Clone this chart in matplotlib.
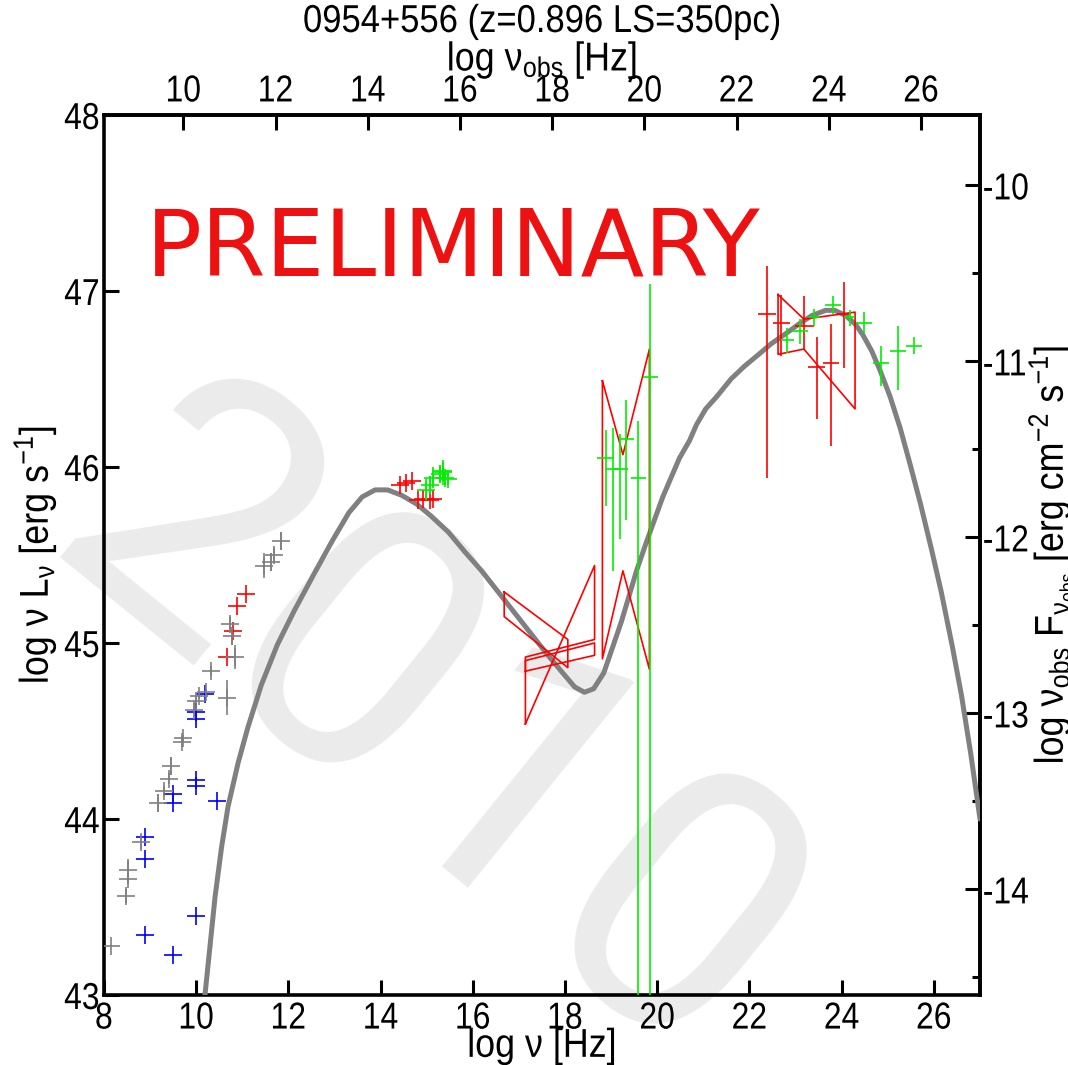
import numpy as np
import matplotlib
matplotlib.use("Agg")
import matplotlib.pyplot as plt
from matplotlib.ticker import FixedLocator, MultipleLocator
from matplotlib.patheffects import AbstractPathEffect
from matplotlib.transforms import Affine2D
from matplotlib.text import Text

# ---------------- data ----------------
Z_SHIFT = 0.2778          # log10(1+z)
DIST_OFFSET = 57.6        # log nuLnu - log nuFnu

# model SED (log nu [Hz], log nuLnu)
model_x = [10.19, 10.30, 10.41, 10.55, 10.69, 10.91, 11.12, 11.41, 11.76, 12.12,
           12.55, 12.95, 13.31, 13.60, 13.88, 14.15, 14.45, 14.78, 15.10, 15.47,
           15.82, 16.19, 16.55, 16.91, 17.27, 17.63, 17.95, 18.21, 18.42, 18.62,
           18.84, 19.05, 19.22, 19.38, 19.55, 19.76, 19.94, 20.12, 20.30, 20.48,
           20.70, 20.85, 21.05, 21.29, 21.60, 21.88, 22.20, 22.47, 22.80, 23.06,
           23.35, 23.65, 23.85, 24.09, 24.30, 24.46, 24.65, 24.83, 25.05, 25.27,
           25.50, 25.71, 25.95, 26.16, 26.40, 26.60, 26.80, 27.00]
model_y = [43.00, 43.28, 43.56, 43.84, 44.07, 44.32, 44.52, 44.76, 44.99, 45.18,
           45.39, 45.58, 45.74, 45.83, 45.87, 45.87, 45.84, 45.79, 45.72, 45.63,
           45.52, 45.41, 45.29, 45.17, 45.05, 44.93, 44.83, 44.75, 44.72, 44.74,
           44.83, 44.99, 45.12, 45.26, 45.41, 45.57, 45.70, 45.83, 45.94, 46.05,
           46.15, 46.24, 46.33, 46.40, 46.50, 46.57, 46.64, 46.70, 46.76, 46.81,
           46.86, 46.89, 46.89, 46.86, 46.81, 46.75, 46.66, 46.55, 46.40, 46.22,
           46.00, 45.79, 45.53, 45.29, 44.98, 44.70, 44.37, 44.00]

# archival radio/mm (grey)
grey_x = [8.15, 8.47, 8.53, 8.53, 8.81, 9.18, 9.30, 9.40, 9.45, 9.70, 9.72, 9.96,
          9.99, 10.05, 10.21, 10.32, 10.66, 10.85, 10.78, 10.73, 11.47, 11.62, 11.69, 11.84]
grey_y = [43.28, 43.56, 43.66, 43.71, 43.87, 44.09, 44.16, 44.23, 44.30, 44.44, 44.46, 44.62,
          44.67, 44.70, 44.72, 44.84, 44.69, 44.92, 45.04, 45.11, 45.44, 45.46, 45.50, 45.58]
grey_err = [0.0, 0.04, 0.03, 0.06, 0.04, 0.05, 0.03, 0.03, 0.05, 0.03, 0.02, 0.04,
            0.03, 0.02, 0.02, 0.03, 0.10, 0.07, 0.05, 0.04, 0.07, 0.05, 0.04, 0.05]

# blue radio
blue_x = [8.90, 8.90, 8.90, 9.50, 10.00, 9.50, 9.50, 10.00, 10.00, 10.45, 10.00, 10.00, 10.20]
blue_y = [43.90, 43.77, 43.34, 43.23, 43.45, 44.14, 44.09, 44.22, 44.19, 44.10, 44.57, 44.61, 44.71]

# red radio/mm
redr_x = [10.66, 10.80, 10.88, 11.07]
redr_y = [44.92, 45.07, 45.21, 45.28]

# optical/UV
redo_x = [14.42, 14.56, 14.67, 14.81, 14.92, 15.06, 15.14]
redo_y = [45.90, 45.91, 45.92, 45.81, 45.82, 45.81, 45.82]
greeno_x = [14.99, 15.06, 15.14, 15.28, 15.35, 15.39, 15.46, 15.35]
greeno_y = [45.87, 45.90, 45.94, 45.96, 45.97, 45.94, 45.93, 45.98]
greeno_err = [0.06, 0.05, 0.06, 0.05, 0.07, 0.04, 0.03, 0.05]

# hard X-ray points (green)
gx_x = [18.88, 19.04, 19.20, 19.33, 19.59, 19.85]
gx_y = [46.05, 45.99, 45.99, 46.16, 45.94, 46.51]
gx_xerr = [0.18, 0.18, 0.16, 0.17, 0.16, 0.16]
gx_elo = [0.27, 0.58, 0.40, 0.46, 4.00, 4.00]
gx_ehi = [0.16, 0.23, 0.20, 0.22, 0.32, 0.53]

# gamma-ray points (red)
rg_x = [22.38, 22.69, 23.19, 23.46, 23.77, 24.05]
rg_y = [46.87, 46.82, 46.80, 46.57, 46.59, 46.87]
rg_xerr = [0.19, 0.18, 0.20, 0.18, 0.17, 0.15]
rg_elo = [0.93, 0.19, 0.13, 0.30, 0.47, 0.31]
rg_ehi = [0.27, 0.16, 0.17, 0.17, 0.22, 0.18]

# gamma-ray points (green)
gg_x = [22.82, 23.09, 23.41, 23.81, 24.17, 24.48, 24.86, 25.22, 25.57]
gg_y = [46.72, 46.77, 46.85, 46.92, 46.85, 46.82, 46.59, 46.66, 46.69]
gg_xerr = [0.14, 0.17, 0.12, 0.18, 0.12, 0.18, 0.17, 0.18, 0.17]
gg_elo = [0.07, 0.07, 0.05, 0.05, 0.05, 0.06, 0.13, 0.22, 0.05]
gg_ehi = [0.07, 0.07, 0.05, 0.05, 0.04, 0.06, 0.10, 0.14, 0.05]

# spectral "bow-ties" (closed outlines)
bow_rosat_x = [16.68, 18.06, 18.06, 16.68]
bow_rosat_y = [45.29, 45.02, 44.86, 45.15]
bow_xrt1_x = [17.14, 18.64, 18.64, 17.14]
bow_xrt1_y = [44.54, 45.44, 45.02, 44.92]
bow_xrt2_x = [17.14, 18.64, 18.64, 17.14]
bow_xrt2_y = [44.84, 44.93, 45.00, 44.90]
bow_bat_x = [18.81, 19.255, 19.83, 19.83, 19.255, 18.81]
bow_bat_y = [46.49, 46.07, 46.67, 44.85, 45.41, 44.91]
bow_lat_x = [22.62, 23.18, 24.29, 24.29, 23.18, 22.62]
bow_lat_y = [46.98, 46.84, 46.88, 46.33, 46.67, 46.64]

bottom_ticks = [8, 10, 12, 14, 16, 18, 20, 22, 24, 26]
top_ticks = [10, 12, 14, 16, 18, 20, 22, 24, 26]
left_ticks = [43, 44, 45, 46, 47, 48]
right_ticks = [-14, -13, -12, -11, -10]


# ---------------- narrow-font effect (Helvetica Narrow look) ----------------
class Narrow(AbstractPathEffect):
    def __init__(self, sx=0.85, anchor='center'):
        super().__init__()
        self.sx = sx
        self.anchor = anchor

    def draw_path(self, renderer, gc, tpath, affine, rgbFace=None):
        v = tpath.vertices
        if len(v):
            x0, x1 = v[:, 0].min(), v[:, 0].max()
        else:
            x0 = x1 = 0.0
        cx = {'center': 0.5 * (x0 + x1), 'right': x1, 'left': x0}[self.anchor]
        t = Affine2D().translate(-cx, 0).scale(self.sx, 1.0).translate(cx, 0)
        renderer.draw_path(gc, tpath, t + affine, rgbFace)


# ---------------- style ----------------
plt.rcParams['font.family'] = ['Liberation Sans', 'DejaVu Sans']
plt.rcParams['mathtext.fontset'] = 'custom'
plt.rcParams['mathtext.rm'] = 'Liberation Sans'
plt.rcParams['mathtext.it'] = 'Liberation Sans'
plt.rcParams['mathtext.bf'] = 'Liberation Sans'
plt.rcParams['axes.unicode_minus'] = False

W, H = 1068, 1065
fig = plt.figure(figsize=(W / 100, H / 100), dpi=100)
L, R, T, B = 104, 980, 115, 995
ax = fig.add_axes([L / W, 1 - B / H, (R - L) / W, (B - T) / H])
ax.patch.set_visible(False)

GREY = '#808080'
RED = '#ff0000'
GREEN = '#00f000'
BLUE = '#0000ff'
lw_thin = 1.2
ms = 13

# watermark
wm = fig.text(361 / W, 1 - 815 / H, '2010', fontsize=266, color='#ebebeb',
              family=['Roboto', 'Liberation Sans'], rotation=-39, rotation_mode='anchor',
              ha='center', va='baseline', zorder=-10)

# PRELIMINARY
pre = fig.text(146 / W, 1 - 275 / H, 'PRELIMINARY', fontsize=67, color='#ee1111',
               family='DejaVu Sans', ha='left', va='baseline', zorder=5)

# model
ax.plot(model_x, model_y, color=GREY, lw=3.6, solid_capstyle='round',
        solid_joinstyle='round', zorder=3)

# low-frequency points
ax.errorbar(grey_x, grey_y, yerr=grey_err, fmt='+', color=GREY, ms=ms, mew=lw_thin,
            elinewidth=lw_thin, capsize=0, zorder=4)
ax.plot(blue_x, blue_y, '+', color=BLUE, ms=ms, mew=lw_thin, zorder=4)
ax.plot(redr_x, redr_y, '+', color=RED, ms=ms, mew=lw_thin, zorder=4)
ax.plot(redo_x, redo_y, '+', color=RED, ms=ms, mew=lw_thin, zorder=4)
ax.errorbar(greeno_x, greeno_y, yerr=greeno_err, fmt='+', color=GREEN, ms=ms, mew=lw_thin,
            elinewidth=lw_thin, capsize=0, zorder=4)

# bow-ties
for bx, by in [(bow_rosat_x, bow_rosat_y), (bow_xrt1_x, bow_xrt1_y), (bow_xrt2_x, bow_xrt2_y),
               (bow_bat_x, bow_bat_y), (bow_lat_x, bow_lat_y)]:
    ax.plot(list(bx) + [bx[0]], list(by) + [by[0]], color=RED, lw=lw_thin, zorder=4)

# X-ray and gamma-ray points
ax.errorbar(gx_x, gx_y, xerr=gx_xerr, yerr=[gx_elo, gx_ehi], fmt='none', ecolor=GREEN,
            elinewidth=lw_thin, capsize=0, zorder=4)
ax.errorbar(rg_x, rg_y, xerr=rg_xerr, yerr=[rg_elo, rg_ehi], fmt='none', ecolor=RED,
            elinewidth=lw_thin, capsize=0, zorder=4)
ax.errorbar(gg_x, gg_y, xerr=gg_xerr, yerr=[gg_elo, gg_ehi], fmt='none', ecolor=GREEN,
            elinewidth=lw_thin, capsize=0, zorder=4)

ax.set_xlim(8, 27)
ax.set_ylim(43, 48)

for s in ax.spines.values():
    s.set_linewidth(2.6)

FS = 27
LFS = 29
ax.xaxis.set_major_locator(FixedLocator(bottom_ticks))
ax.yaxis.set_major_locator(FixedLocator(left_ticks))
ax.tick_params(axis='both', which='major', direction='in', length=11, width=2.2,
               labelsize=FS, pad=4)
ax.tick_params(axis='y', pad=3)
ax.set_xlabel('log ν [Hz]', fontsize=LFS, labelpad=-7)
ax.set_ylabel(r'log ν L$\mathregular{_{\nu}}$ [erg s$\mathregular{^{-1}}$]', fontsize=LFS, labelpad=0)

sec_x = ax.secondary_xaxis('top', functions=(lambda x: x + Z_SHIFT, lambda x: x - Z_SHIFT))
sec_x.xaxis.set_major_locator(FixedLocator(top_ticks))
sec_x.tick_params(direction='in', length=11, width=2.2, labelsize=FS, pad=4)
sec_x.set_xlabel(r'log $\mathregular{\nu_{obs}}$ [Hz]', fontsize=LFS, labelpad=2)

sec_y = ax.secondary_yaxis('right', functions=(lambda y: y - DIST_OFFSET, lambda y: y + DIST_OFFSET))
sec_y.yaxis.set_major_locator(FixedLocator(right_ticks))
sec_y.yaxis.set_minor_locator(MultipleLocator(0.5))
sec_y.tick_params(which='major', direction='in', length=11, width=2.2, labelsize=FS, pad=2)
sec_y.tick_params(which='minor', direction='in', length=6, width=2.2)
sec_y.set_ylabel(r'log $\mathregular{\nu_{obs}}$ F$\mathregular{_{\nu_{obs}}}$ [erg cm$\mathregular{^{-2}}$ s$\mathregular{^{-1}}$]',
                 fontsize=LFS, labelpad=-8)
for s in sec_x.spines.values():
    s.set_linewidth(2.6)
for s in sec_y.spines.values():
    s.set_linewidth(2.6)

title = fig.text(542 / W, 1 - 22 / H, '0954+556 (z=0.896 LS=350pc)', fontsize=28,
                 ha='center', va='center')

# apply the narrow look to all axis / tick / title texts
fig.canvas.draw()
label_texts = {ax.xaxis.label, ax.yaxis.label, sec_x.xaxis.label, sec_y.yaxis.label, title}
for t in fig.findobj(Text):
    if t is wm or t is pre or not t.get_text():
        continue
    ha = t.get_horizontalalignment()
    rot = t.get_rotation()
    if rot % 180 != 0:
        anchor = 'center'
    else:
        anchor = {'center': 'center', 'right': 'right', 'left': 'left'}.get(ha, 'center')
    sx = 0.89 if t in label_texts else 0.85
    t.set_path_effects([Narrow(sx, anchor)])

fig.savefig('out.png', dpi=100)
